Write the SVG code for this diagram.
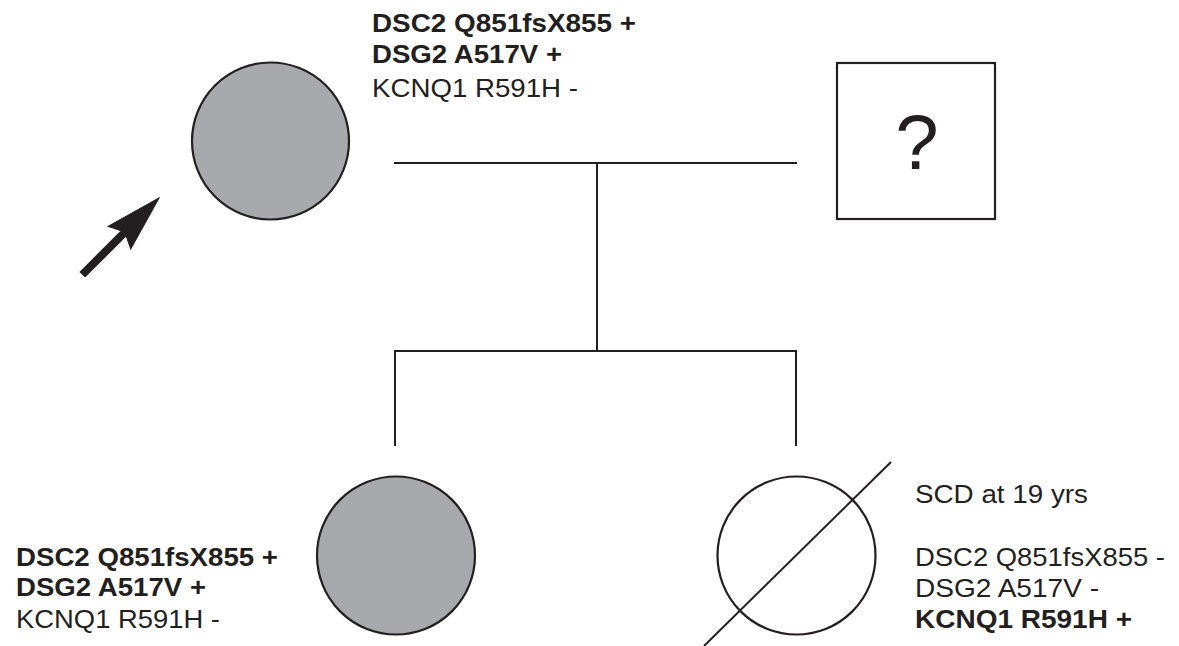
<svg xmlns="http://www.w3.org/2000/svg" width="1179" height="646" viewBox="0 0 1179 646">
  <style>
    .bg { fill: #ffffff; }
    .line { stroke: #231f20; stroke-width: 2; fill: none; }
    .affected { fill: #a7a9ac; stroke: #231f20; stroke-width: 2.2; }
    .unaffected { fill: #ffffff; stroke: #231f20; stroke-width: 2.2; }
    .lbl { font-family: "Liberation Sans", Arial, sans-serif; font-size: 26px; fill: #231f20; }
    .b { font-weight: bold; }
    .q { font-family: "Liberation Sans", Arial, sans-serif; font-size: 78px; fill: #231f20; text-anchor: middle; }
    .arrow { fill: #231f20; stroke: #231f20; stroke-width: 1; stroke-linejoin: miter; }
  </style>

  <rect class="bg" x="0" y="0" width="1179" height="646"/>

  <!-- connectors: mating line, descent line, sibship line and child drops -->
  <g id="connectors">
    <line class="line" x1="394" y1="163" x2="797" y2="163"/>
    <line class="line" x1="597" y1="163" x2="597" y2="351"/>
    <polyline class="line" points="395,446 395,351 796,351 796,446"/>
  </g>

  <!-- mother (proband) -->
  <g id="proband">
    <circle class="affected" cx="270.5" cy="141" r="78.5"/>
    <text class="lbl b" x="372" y="32" textLength="264" lengthAdjust="spacingAndGlyphs">DSC2 Q851fsX855 +</text>
    <text class="lbl b" x="372" y="63" textLength="190" lengthAdjust="spacingAndGlyphs">DSG2 A517V +</text>
    <text class="lbl" x="372" y="97" textLength="206" lengthAdjust="spacingAndGlyphs">KCNQ1 R591H -</text>
    <polygon class="arrow" transform="translate(159,198) rotate(-45)"
             points="0,0 -56,-16 -50,-3.5 -108,-3.5 -108,3.5 -50,3.5 -56,16"/>
  </g>

  <!-- father, status unknown -->
  <g id="father">
    <rect class="unaffected" x="837" y="63" width="158" height="156"/>
    <text class="q" x="917" y="169">?</text>
  </g>

  <!-- daughter, affected -->
  <g id="daughter-affected">
    <circle class="affected" cx="396" cy="555.5" r="79"/>
    <text class="lbl b" x="16" y="566" textLength="262" lengthAdjust="spacingAndGlyphs">DSC2 Q851fsX855 +</text>
    <text class="lbl b" x="16" y="596" textLength="190" lengthAdjust="spacingAndGlyphs">DSG2 A517V +</text>
    <text class="lbl" x="16" y="628" textLength="204" lengthAdjust="spacingAndGlyphs">KCNQ1 R591H -</text>
  </g>

  <!-- daughter, deceased -->
  <g id="daughter-deceased">
    <circle class="unaffected" cx="796.5" cy="555.5" r="79"/>
    <line class="line" x1="891" y1="462" x2="704" y2="646"/>
    <text class="lbl" x="915" y="503" textLength="173" lengthAdjust="spacingAndGlyphs">SCD at 19 yrs</text>
    <text class="lbl" x="915" y="566" textLength="250" lengthAdjust="spacingAndGlyphs">DSC2 Q851fsX855 -</text>
    <text class="lbl" x="915" y="597" textLength="184" lengthAdjust="spacingAndGlyphs">DSG2 A517V -</text>
    <text class="lbl b" x="915" y="628" textLength="217" lengthAdjust="spacingAndGlyphs">KCNQ1 R591H +</text>
  </g>
</svg>
